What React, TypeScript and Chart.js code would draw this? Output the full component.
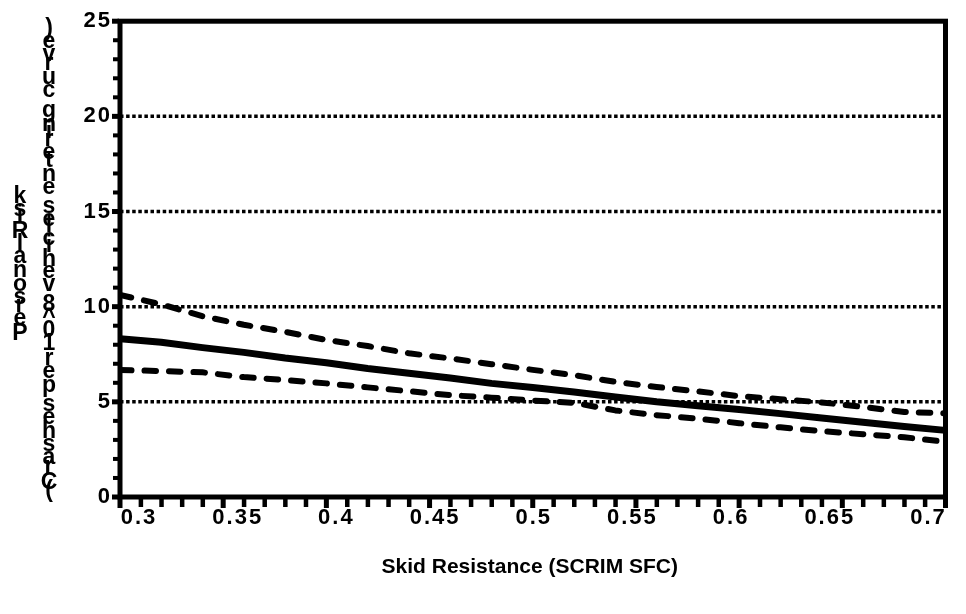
import { useEffect, useRef } from 'react';
import { Chart, registerables } from 'chart.js';

Chart.register(...registerables);

// ---- data ----
const skidResistance = [0.3, 0.32, 0.34, 0.36, 0.38, 0.4, 0.42, 0.44, 0.46, 0.48, 0.5, 0.52, 0.54, 0.56, 0.58, 0.6, 0.62, 0.64, 0.66, 0.68, 0.7];
const meanRisk = [8.32, 8.13, 7.85, 7.6, 7.3, 7.05, 6.75, 6.5, 6.25, 5.97, 5.75, 5.52, 5.25, 5.0, 4.8, 4.6, 4.38, 4.15, 3.93, 3.7, 3.5];
const upperRisk = [10.62, 10.12, 9.5, 9.05, 8.68, 8.25, 7.93, 7.55, 7.28, 6.98, 6.68, 6.4, 6.05, 5.78, 5.55, 5.3, 5.14, 4.97, 4.73, 4.47, 4.4];
const lowerRisk = [6.67, 6.62, 6.55, 6.3, 6.15, 5.97, 5.76, 5.56, 5.35, 5.22, 5.07, 4.95, 4.55, 4.3, 4.12, 3.88, 3.66, 3.46, 3.3, 3.14, 2.9];

const xTickValues = [0.3, 0.35, 0.4, 0.45, 0.5, 0.55, 0.6, 0.65, 0.7];
const xTickLabels = ['0.3', '0.35', '0.4', '0.45', '0.5', '0.55', '0.6', '0.65', '0.7'];
const yTickValues = [0, 5, 10, 15, 20, 25];
const yGridValues = [5, 10, 15, 20];

const xTitle = 'Skid Resistance (SCRIM SFC)';
const yTitleLine1 = 'Personal Risk';
const yTitleLine2 = '(Crashes per 10^8 vehicles entering curve)';

// label axis range (labels sit slightly inward of their tick marks, as in the reference)
const labelAxisMin = 0.29036;
const labelAxisMax = 0.70863;

const FONT = "'Liberation Sans', Arial, Helvetica, sans-serif";

function drawStacked(ctx: CanvasRenderingContext2D, text: string, cx: number, bottom: number, top: number) {
  const chars = Array.from(text);
  const widths = chars.map((c) => ctx.measureText(c).width);
  let sum = 0;
  for (let i = 0; i < chars.length - 1; i++) sum += widths[i];
  const k = (bottom - top - 17) / sum;
  let y = bottom;
  chars.forEach((c, i) => {
    ctx.fillText(c, cx, y);
    y -= widths[i] * k;
  });
}

const decorPlugin = {
  id: 'decor',
  beforeDraw(chart: any) {
    (chart.ctx as any).letterSpacing = '2px';
  },
  beforeDatasetsDraw(chart: any) {
    const { ctx, chartArea } = chart;
    (ctx as any).letterSpacing = '0px';
    const y = chart.scales.y;
    ctx.save();
    ctx.strokeStyle = '#000';
    ctx.lineWidth = 3.5;
    ctx.setLineDash([3.5, 2.6]);
    yGridValues.forEach((v) => {
      const py = y.getPixelForValue(v);
      ctx.beginPath();
      ctx.moveTo(chartArea.left, py);
      ctx.lineTo(chartArea.right, py);
      ctx.stroke();
    });
    ctx.restore();
  },
  afterDatasetsDraw(chart: any) {
    const { ctx, chartArea } = chart;
    const { left, right, top, bottom } = chartArea;
    const x = chart.scales.x;
    const y = chart.scales.y;
    ctx.save();
    ctx.fillStyle = '#000';
    for (let v = 0; v <= 25; v++) {
      const py = y.getPixelForValue(v);
      if (v % 5 === 0) ctx.fillRect(left - 8, py - 2.5, 7, 5);
      else ctx.fillRect(left - 7, py - 2, 6, 4);
    }
    for (let i = 0; i <= 40; i++) {
      const px = x.getPixelForValue(0.3 + i * 0.01);
      if (i % 5 === 0) ctx.fillRect(px - 2.5, bottom, 5, 11);
      else ctx.fillRect(px - 2, bottom, 4.5, 10);
    }
    ctx.strokeStyle = '#000';
    ctx.lineWidth = 5;
    ctx.strokeRect(left, top, right - left, bottom - top);
    ctx.restore();
  },
  afterDraw(chart: any) {
    const { ctx, chartArea } = chart;
    ctx.save();
    (ctx as any).letterSpacing = '0px';
    ctx.fillStyle = '#000';
    ctx.font = `bold 21px ${FONT}`;
    ctx.textAlign = 'center';
    ctx.textBaseline = 'middle';
    ctx.fillText(xTitle, (chartArea.left + chartArea.right) / 2 - 3, 567);
    ctx.font = `bold 23px ${FONT}`;
    ctx.textBaseline = 'alphabetic';
    drawStacked(ctx, yTitleLine1, 20, 340, 186);
    drawStacked(ctx, yTitleLine2, 49, 497, 18);
    ctx.restore();
  },
};

export default function App() {
  const ref = useRef<HTMLCanvasElement | null>(null);
  useEffect(() => {
    if (!ref.current) return;
    const lineBase = {
      borderColor: '#000',
      backgroundColor: '#000',
      pointRadius: 0,
      fill: false,
      tension: 0,
      borderJoinStyle: 'round' as const,
      xAxisID: 'x',
      yAxisID: 'y',
    };
    const chart = new Chart(ref.current, {
      type: 'line',
      data: {
        datasets: [
          { ...lineBase, label: 'Upper', data: skidResistance.map((v, i) => ({ x: v, y: upperRisk[i] })), borderWidth: 6, borderDash: [11.5, 13], borderCapStyle: 'round' },
          { ...lineBase, label: 'Mean', data: skidResistance.map((v, i) => ({ x: v, y: meanRisk[i] })), borderWidth: 7 },
          { ...lineBase, label: 'Lower', data: skidResistance.map((v, i) => ({ x: v, y: lowerRisk[i] })), borderWidth: 6, borderDash: [11.5, 13], borderCapStyle: 'round' },
        ],
      },
      options: {
        animation: false,
        responsive: true,
        maintainAspectRatio: false,
        layout: { padding: { left: 0, right: 20.5, top: 17.5, bottom: 0 } },
        plugins: { legend: { display: false }, tooltip: { enabled: false }, title: { display: false } },
        scales: {
          x: { type: 'linear', display: false, min: 0.3, max: 0.7 },
          xl: {
            type: 'linear',
            position: 'bottom',
            min: labelAxisMin,
            max: labelAxisMax,
            afterBuildTicks: (s: any) => { s.ticks = xTickValues.map((v) => ({ value: v })); },
            afterFit: (s: any) => { s.height = 117; },
            grid: { display: false, drawTicks: false },
            border: { display: false },
            ticks: {
              color: '#000',
              padding: 8,
              maxRotation: 0,
              autoSkip: false,
              font: { family: FONT, size: 22, weight: 'bold' },
              callback: (_v: any, i: number) => xTickLabels[i],
            },
          },
          y: {
            type: 'linear',
            min: 0,
            max: 25,
            afterBuildTicks: (s: any) => { s.ticks = yTickValues.map((v) => ({ value: v })); },
            afterFit: (s: any) => { s.width = 120; },
            grid: { display: false, drawTicks: false },
            border: { display: false },
            ticks: {
              color: '#000',
              padding: 8,
              font: { family: FONT, size: 22, weight: 'bold' },
              callback: (v: any) => String(v),
            },
          },
        },
      },
      plugins: [decorPlugin],
    });
    return () => chart.destroy();
  }, []);
  return (
    <div style={{ position: 'fixed', left: 0, top: 0, width: 966, height: 614, background: '#fff' }}>
      <canvas ref={ref} />
    </div>
  );
}
